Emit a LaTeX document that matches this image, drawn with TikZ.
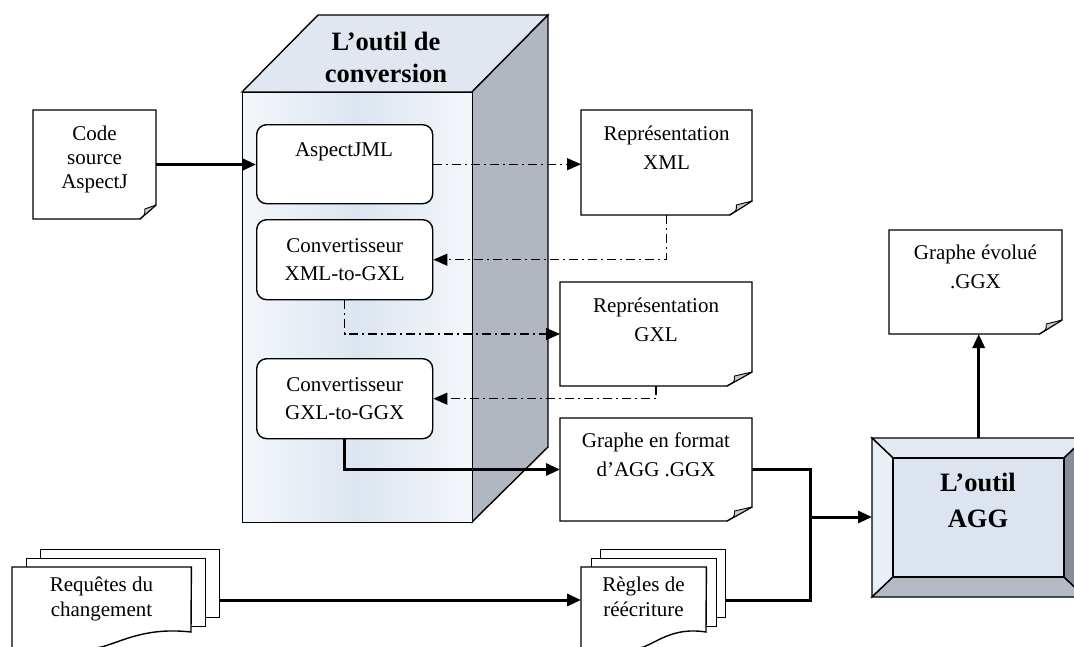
\documentclass[tikz,border=0pt]{standalone}
\usepackage{fontspec}
\setmainfont{Liberation Serif}
\usetikzlibrary{arrows.meta,calc}

\definecolor{flapgray}{RGB}{200,200,200}
\definecolor{topface}{RGB}{224,231,241}
\definecolor{sideface}{RGB}{176,183,193}
\definecolor{frontA}{RGB}{244,247,251}
\definecolor{frontB}{RGB}{220,229,240}
\definecolor{aggface}{RGB}{220,228,240}
\definecolor{aggtop}{RGB}{226,233,243}
\definecolor{aggleft}{RGB}{233,239,247}
\definecolor{aggbottom}{RGB}{178,186,196}
\definecolor{aggright}{RGB}{136,142,151}

\newcommand\bodyfont{\fontsize{21}{28}\selectfont}
\newcommand\titlefont{\fontsize{26.5}{32}\selectfont\bfseries}

% page with a folded lower right corner:
% name, x1, y1, x2, y2, text centre y, baselineskip, text
\newcommand\pagedoc[8]{%
  \pgfmathsetmacro\docw{#4-#2}\pgfmathsetmacro\doch{#5-#3}%
  \pgfmathsetmacro\docf{0.13*\docw}\pgfmathsetmacro\docfa{0.7*\docf}%
  \pgfmathsetmacro\doccx{(#2+#4)/2}%
  \node[inner sep=0pt, outer sep=0pt, minimum width=\docw pt,
        minimum height=\doch pt, anchor=north west] (#1) at (#2,#3) {};
  \draw[docline] (#1.north west) -- (#1.north east)
     -- ([yshift=14pt]#1.south east) -- ([xshift=-\docf pt]#1.south east)
     -- (#1.south west) -- cycle;
  \filldraw[flap] ([yshift=14pt]#1.south east)
     -- ([xshift=-\docfa pt, yshift=10pt]#1.south east)
     .. controls ([xshift=-\docfa pt, yshift=4pt]#1.south east)
     .. ([xshift=-\docf pt]#1.south east) -- cycle;
  \node[txt, font={\fontsize{21}{#7}\selectfont}] (#1-t) at (\doccx,#6) {#8};
}

% stack of three pages with a wavy lower edge:
% name, x1, y1, x2, layer offset, text centre y, text
\newcommand\stackdoc[7]{%
  \pgfmathsetmacro\stw{#4-#2}%
  \pgfmathsetmacro\stbx{#2+2*#5}\pgfmathsetmacro\stmx{#2+#5}%
  \pgfmathsetmacro\stby{#3-18}\pgfmathsetmacro\stmy{#3-9}%
  \pgfmathsetmacro\stbh{617-\stby}\pgfmathsetmacro\stmh{626-\stmy}%
  \pgfmathsetmacro\stcx{(#2+#4)/2}%
  \node[docline, inner sep=0pt, minimum width=\stw pt, minimum height=\stbh pt,
        anchor=north west] (#1-b) at (\stbx,\stby) {};
  \node[docline, inner sep=0pt, minimum width=\stw pt, minimum height=\stmh pt,
        anchor=north west] (#1-m) at (\stmx,\stmy) {};
  \node[inner sep=0pt, minimum width=\stw pt, minimum height=80pt,
        anchor=north west] (#1) at (#2,#3) {};
  \pgfmathsetmacro\waveA{#4-0.25*\stw}\pgfmathsetmacro\waveB{#4-0.38*\stw}%
  \pgfmathsetmacro\waveC{#2+0.5*\stw}\pgfmathsetmacro\waveD{#2+0.32*\stw}%
  \pgfmathsetmacro\waveE{#2+0.12*\stw}%
  \draw[docline] (#1.north west) -- (#1.north east) -- (#4,632)
     .. controls (\waveA,627) and (\waveB,641) .. (\waveC,647)
     .. controls (\waveD,652) and (\waveE,657) .. (#2,662) -- cycle;
  \node[txt, font={\fontsize{21}{25}\selectfont}] (#1-t) at (\stcx,#6) {#7};
}

\begin{document}
\begin{tikzpicture}[x=1pt, y=-1pt,
  docline/.style={draw=black, fill=white, line width=1.4pt, line join=miter},
  flap/.style={fill=flapgray, draw=black, line width=0.9pt, line join=round},
  face/.style={draw=black, line width=1.4pt, line join=miter},
  rbox/.style={draw=black, fill=white, line width=1.4pt, rounded corners=10pt,
               inner sep=0pt, anchor=north west, minimum width=176pt,
               font=\bodyfont, align=center},
  txt/.style={align=center, inner sep=0pt},
  strong/.style={line width=3pt, -{Triangle[length=14pt,width=12pt]}},
  strongline/.style={line width=3pt},
  dd/.style={line width=1.3pt, dash pattern=on 9pt off 4pt on 2pt off 4pt,
             -{Triangle[length=14pt,width=12pt]}},
]
\useasboundingbox (0,0) rectangle (1074,646);

% ---- the conversion tool (box in perspective) ----
\draw[face, fill=topface] (242,92) -- (318,15) -- (548,15) -- (472,92) -- cycle;
\draw[face, fill=sideface] (472,92) -- (548,15) -- (548,447) -- (472,522) -- cycle;
\node[face, left color=frontA, right color=frontA, middle color=frontB,
      inner sep=0pt, minimum width=230pt, minimum height=430pt,
      anchor=north west] (tool) at (242,92) {};
\node[txt, font=\titlefont] (tool-t) at (386,57) {L’outil de\\conversion};

\node[rbox, minimum height=79pt] (ajml) at (256,124) {};
\node[txt, font=\bodyfont] (ajml-t) at (344,152) {AspectJML};
\node[rbox, minimum height=80pt] (x2g) at (256,219) {Convertisseur\\XML-to-GXL};
\node[rbox, minimum height=80pt] (g2g) at (256,358) {Convertisseur\\GXL-to-GGX};

% ---- documents ----
\pagedoc{code}{33}{110}{156}{219}{159}{24}{Code\\source\\AspectJ}
\pagedoc{repx}{581}{110}{752}{215}{148}{29}{Représentation\\XML}
\pagedoc{repg}{560}{282}{752}{386}{320}{29}{Représentation\\GXL}
\pagedoc{graphe}{560}{418}{752}{521}{455}{29}{Graphe en format\\d’AGG .GGX}
\pagedoc{evol}{889}{230}{1062}{334}{267}{29}{Graphe évolué\\.GGX}

\stackdoc{req}{12}{567}{191}{14}{599}{Requêtes du\\changement}
\stackdoc{regl}{581}{567}{706}{9.5}{597}{Règles de\\réécriture}

% ---- the AGG tool (bevelled button) ----
\node[inner sep=0pt, minimum width=213pt, minimum height=159pt,
      anchor=north west] (agg) at (872,438) {};
\draw[face, fill=aggtop] (872,438) -- (1085,438) -- (1064,458) -- (893,458) -- cycle;
\draw[face, fill=aggleft] (872,438) -- (893,458) -- (893,577) -- (872,597) -- cycle;
\draw[face, fill=aggbottom] (872,597) -- (893,577) -- (1064,577) -- (1085,597) -- cycle;
\draw[face, fill=aggright] (1085,438) -- (1064,458) -- (1064,577) -- (1085,597) -- cycle;
\draw[face, fill=aggface] (893,458) rectangle (1064,577);
\node[txt, font={\fontsize{26.5}{36}\selectfont\bfseries}] (agg-t) at (978,500) {L’outil\\AGG};

% ---- connectors ----
\draw[strong] (code.east) -- (code.east -| ajml.west);
\draw[dd] (ajml.east) -- (ajml.east -| repx.west);
\draw[dd] (repx.south) |- (x2g.east);
\draw[dd] (x2g.south) |- (repg.west);
\draw[dd] (repg.south) |- (g2g.east);
\draw[strong] (g2g.south) |- (graphe.west);

\coordinate (jb) at (810,600);
\coordinate (jm) at (810,517);
\draw[strongline] (graphe.east) -| (jb) -- (jb -| regl-b.east);
\draw[strong] (jm) -- (jm -| agg.west);
\draw[strong] ($(req-b.north east)+(0,51)$) -- (jb -| regl.west);
\draw[strong] (agg.north) -- (agg.north |- evol.south);
\end{tikzpicture}
\end{document}
